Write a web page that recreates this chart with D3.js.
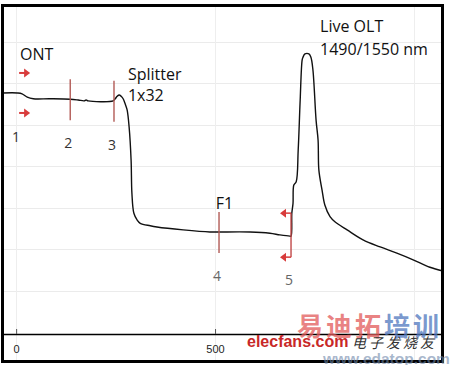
<!DOCTYPE html>
<html>
<head>
<meta charset="utf-8">
<script src="https://cdn.jsdelivr.net/npm/d3@7"></script>
<style>
  body { margin: 0; background: #fff; }
  svg { display: block; }
</style>
</head>
<body>
<div id="chart"></div>
<script>
const width = 450;
const height = 365;

// OTDR trace: distance (m) vs level (dB)
const distance = [-33, 3, 15, 28, 43, 85, 136, 156, 171, 176, 181, 244, 249, 254, 259, 264, 269, 274, 279, 284,
    289, 291, 296, 304, 312, 337, 354, 420, 487, 510, 588, 638, 663, 688, 691, 693, 696, 698, 704, 709,
    714, 719, 721, 726, 736, 741, 746, 754, 759, 761, 769, 776, 789, 802, 832, 872, 915, 957, 998, 1040, 1073];
const level = [28.8, 28.8, 28.7, 28.3, 28.1, 28.1, 28.05, 27.95, 27.85, 27.95, 27.85, 27.85, 28.1, 28.4, 28.55, 28.4, 28.1, 27.5, 26.75, 24.7,
    20.7, 16.75, 14.3, 13.5, 13.1, 12.8, 12.65, 12.3, 12.05, 12.05, 12.05, 11.9, 11.7, 11.55, 11.55, 14.3, 15.5, 17.7, 18.1, 21.9,
    27.95, 32.8, 33.1, 33.5, 33.5, 33.1, 31.6, 25.5, 23.1, 19.5, 17.1, 15.3, 13.9, 13.25, 12.3, 11.1, 10.25, 9.5, 8.7, 7.8, 7.35];

// events along the link
const eventName = ["1", "2", "3", "4", "5"];
const eventDistance = [0, 136, 246, 510, 691];
const eventKind = ["start", "mark", "mark", "mark", "end"];

// axis ticks and grid
const xTicks = [0, 500];
const xGrid = [0, 500, 1000];
const yGrid = [5, 10, 15, 20, 25, 30, 35];

const trace = distance.map((d, i) => ({ d, v: level[i] }));

const x = d3.scaleLinear().domain([-33, 1073]).range([3, 443]);
const y = d3.scaleLinear().domain([0, 40]).range([332, 0]);

const svg = d3.select("#chart").append("svg")
    .attr("width", width)
    .attr("height", height)
    .attr("viewBox", [0, 0, width, height]);

svg.append("rect").attr("width", width).attr("height", height).attr("fill", "#fff");

// faint grid
svg.append("g")
    .selectAll("line")
    .data(yGrid)
    .join("line")
    .attr("x1", 4).attr("x2", 441)
    .attr("y1", d => Math.round(y(d)) + 0.5)
    .attr("y2", d => Math.round(y(d)) + 0.5)
    .attr("stroke", "#ebebeb");

svg.append("g")
    .selectAll("line")
    .data(xGrid)
    .join("line")
    .attr("x1", d => Math.round(x(d)) + 0.5)
    .attr("x2", d => Math.round(x(d)) + 0.5)
    .attr("y1", 7).attr("y2", 360)
    .attr("stroke", "#eeeeee");

// x axis
const axis = svg.append("g")
    .attr("transform", "translate(0,334)")
    .call(d3.axisBottom(x).tickValues(xTicks).tickSizeInner(-5).tickSizeOuter(0).tickPadding(11));
axis.select(".domain").attr("stroke", "#000").attr("stroke-width", 1.5);
axis.selectAll(".tick line").attr("stroke", "#555");
axis.selectAll(".tick text")
    .attr("font-family", "'Liberation Sans', Arial, sans-serif")
    .attr("font-size", 11)
    .attr("fill", "#222");

// the trace
const line = d3.line()
    .x(p => x(p.d))
    .y(p => y(p.v))
    .curve(d3.curveCatmullRom.alpha(0.5));

svg.append("path")
    .datum(trace)
    .attr("d", line)
    .attr("fill", "none")
    .attr("stroke", "#111")
    .attr("stroke-width", 1.4)
    .attr("stroke-linejoin", "round");

// level of the trace just before a distance
const bisect = d3.bisector(p => p.d).right;
function levelAt(d) {
    const i = Math.max(0, bisect(trace, d) - 1);
    return trace[i].v;
}

const red = "#d83c3c";
const events = eventName.map((name, i) => ({ name, d: eventDistance[i], kind: eventKind[i] }));
const ev = svg.append("g");

events.forEach(e => {
    const ex = x(e.d);
    const ey = y(levelAt(e.d));
    if (e.kind === "mark") {
        ev.append("line")
            .attr("x1", ex).attr("x2", ex)
            .attr("y1", ey - 20).attr("y2", ey + 21)
            .attr("stroke", "#b25a55")
            .attr("stroke-width", 1.4);
    }
    if (e.kind === "start") {
        [ey - 20, ey + 20].forEach(ay => {
            ev.append("line")
                .attr("x1", ex + 3).attr("x2", ex + 9)
                .attr("y1", ay).attr("y2", ay)
                .attr("stroke", red).attr("stroke-width", 2);
            ev.append("path")
                .attr("d", `M${ex + 8},${ay - 4.5}L${ex + 14},${ay}L${ex + 8},${ay + 4.5}Z`)
                .attr("fill", red);
        });
    }
    if (e.kind === "end") {
        ev.append("line")
            .attr("x1", ex).attr("x2", ex)
            .attr("y1", ey - 23).attr("y2", ey + 21)
            .attr("stroke", "#c04848")
            .attr("stroke-width", 1.4);
        [ey - 23, ey + 21].forEach(ay => {
            ev.append("line")
                .attr("x1", ex - 6).attr("x2", ex)
                .attr("y1", ay).attr("y2", ay)
                .attr("stroke", red).attr("stroke-width", 1.5);
            ev.append("path")
                .attr("d", `M${ex - 5},${ay - 4.5}L${ex - 11},${ay}L${ex - 5},${ay + 4.5}Z`)
                .attr("fill", red);
        });
    }
    const light = e.d > 400;
    ev.append("text")
        .attr("x", ex - (e.kind === "start" ? 0 : 2))
        .attr("y", ey + 49)
        .attr("text-anchor", "middle")
        .attr("font-family", "'Open Sans', sans-serif")
        .attr("font-size", 14)
        .attr("fill", light ? "#666" : "#333")
        .text(e.name);
});

// annotations
const notes = [
    { lines: ["ONT"], d: 10, v: 32.8, gap: 0 },
    { lines: ["Splitter", "1x32"], d: 281, v: 30.4, gap: 21 },
    { lines: ["F1"], d: 502, v: 14.8, gap: 0 },
    { lines: ["Live OLT", "1490/1550 nm"], d: 764, v: 36.1, gap: 23 }
];

notes.forEach(n => {
    n.lines.forEach((t, k) => {
        svg.append("text")
            .attr("x", x(n.d))
            .attr("y", y(n.v) + k * n.gap)
            .attr("font-family", "'Open Sans', sans-serif")
            .attr("font-size", 16)
            .attr("fill", "#111")
            .text(t);
    });
});

// frame
svg.append("rect")
    .attr("x", 2.5).attr("y", 5.5)
    .attr("width", 440).attr("height", 356)
    .attr("fill", "none")
    .attr("stroke", "#000")
    .attr("stroke-width", 3);

// site watermark
const wm = svg.append("g");
wm.append("text")
    .attr("x", 297).attr("y", 336)
    .attr("font-family", "'Noto Sans CJK SC', sans-serif")
    .attr("font-weight", 700)
    .attr("font-size", 26)
    .attr("letter-spacing", 3)
    .selectAll("tspan")
    .data([["易迪拓", "rgba(226,90,90,0.75)"], ["培训", "rgba(80,120,190,0.75)"]])
    .join("tspan")
    .attr("fill", d => d[1])
    .text(d => d[0]);
wm.append("text")
    .attr("x", 247).attr("y", 347)
    .attr("font-family", "'Liberation Sans', Arial, sans-serif")
    .attr("font-weight", 700)
    .attr("font-size", 16)
    .attr("fill", "#c82828")
    .text("elecfans.com");
wm.append("text")
    .attr("x", 352).attr("y", 348)
    .attr("font-family", "'Noto Sans CJK SC', sans-serif")
    .attr("font-size", 14)
    .attr("font-style", "italic")
    .attr("letter-spacing", 3)
    .attr("fill", "#333")
    .text("电子发烧友");
wm.append("text")
    .attr("x", 323).attr("y", 364)
    .attr("font-family", "'Liberation Sans', Arial, sans-serif")
    .attr("font-weight", 700)
    .attr("font-size", 15.5)
    .attr("fill", "rgba(110,135,170,0.6)")
    .text("www.edatop.com");
</script>
</body>
</html>
